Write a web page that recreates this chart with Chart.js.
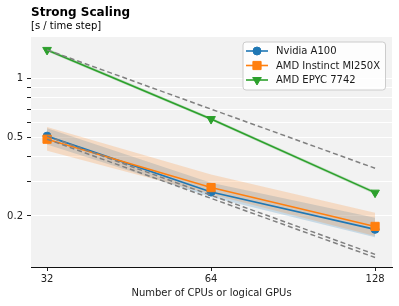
<!DOCTYPE html>
<html>
<head>
<meta charset="utf-8">
<script src="https://cdn.jsdelivr.net/npm/chart.js@4.4.1/dist/chart.umd.min.js"></script>
<style>
html,body{margin:0;padding:0;background:#fff;}
#wrap{width:399px;height:306px;}
</style>
</head>
<body>
<div id="wrap"><canvas id="c" width="399" height="306"></canvas></div>
<script>
// ---- data ----
const cpus = [32, 64, 128];
const xTickValues = [32, 64, 128];
const yTickValues = [0.2, 0.3, 0.4, 0.5, 0.6, 0.7, 0.8, 0.9, 1];
const yTickLabels = ['0.2', '', '', '0.5', '', '', '', '', '1'];

const seriesNames = ['Nvidia A100', 'AMD Instinct MI250X', 'AMD EPYC 7742'];
const a100 = [0.510, 0.265, 0.171];
const a100Lo = [0.462, 0.250, 0.156];
const a100Hi = [0.560, 0.295, 0.196];
const mi250x = [0.492, 0.279, 0.177];
const mi250xLo = [0.430, 0.258, 0.158];
const mi250xHi = [0.567, 0.325, 0.208];
const epyc = [1.401, 0.623, 0.263];
const epycLo = [1.375, 0.612, 0.258];
const epycHi = [1.427, 0.634, 0.268];

const idealA100 = [0.510, 0.255, 0.1275];
const idealMI250x = [0.492, 0.246, 0.123];
const idealEPYC = [1.401, 0.700, 0.350];

// ---- styles ----
const FONT = 'DejaVu Sans';
const BLUE = '#1f77b4', ORANGE = '#ff7f0e', GREEN = '#2ca02c';
const pts = a => a.map((v, i) => ({x: cpus[i], y: v}));

function band(hi, lo, color, order) {
  return [
    {data: pts(hi), borderWidth: 0, pointRadius: 0, fill: false, order: order, backgroundColor: color},
    {data: pts(lo), borderWidth: 0, pointRadius: 0, fill: '-1', order: order, backgroundColor: color}
  ];
}
function line(vals, color, style, radius, rotation, order) {
  return {data: pts(vals), borderColor: color, backgroundColor: color, borderWidth: 1.6,
    pointStyle: style, pointRadius: radius, pointRotation: rotation, pointBorderWidth: 1,
    pointBorderColor: color, pointBackgroundColor: color, fill: false, order: order, tension: 0};
}
function dashed(vals, order) {
  return {data: pts(vals), borderColor: 'rgba(128,128,128,1)', borderWidth: 1.5, borderDash: [5, 3],
    pointRadius: 0, fill: false, order: order};
}

const datasets = [
  ...band(a100Hi, a100Lo, 'rgba(31,119,180,0.2)', 21),
  ...band(mi250xHi, mi250xLo, 'rgba(255,127,14,0.2)', 20),
  ...band(epycHi, epycLo, 'rgba(44,160,44,0.25)', 19),
  line(a100, BLUE, 'circle', 4, 0, 12),
  line(mi250x, ORANGE, 'rect', 5.8, 0, 11),
  line(epyc, GREEN, 'triangle', 5, 180, 10),
  dashed(idealA100, 3),
  dashed(idealMI250x, 2),
  dashed(idealEPYC, 1)
];

const legendItems = [
  {text: seriesNames[0], color: BLUE, style: 'circle', radius: 4, rotation: 0},
  {text: seriesNames[1], color: ORANGE, style: 'rect', radius: 5.8, rotation: 0},
  {text: seriesNames[2], color: GREEN, style: 'triangle', radius: 5, rotation: 180}
];

const bgPlugin = {
  id: 'bg',
  beforeDraw(chart) {
    const {ctx, chartArea: a} = chart;
    ctx.save();
    ctx.fillStyle = '#f2f2f2';
    ctx.fillRect(a.left, a.top, a.right - a.left, a.bottom - a.top);
    ctx.restore();
  }
};

const legendPlugin = {
  id: 'boxLegend',
  afterDraw(chart) {
    const ctx = chart.ctx;
    const x0 = 243, y0 = 42, w = 142.5, h = 48, r = 3;
    ctx.save();
    ctx.beginPath();
    ctx.moveTo(x0 + r, y0);
    ctx.arcTo(x0 + w, y0, x0 + w, y0 + h, r);
    ctx.arcTo(x0 + w, y0 + h, x0, y0 + h, r);
    ctx.arcTo(x0, y0 + h, x0, y0, r);
    ctx.arcTo(x0, y0, x0 + w, y0, r);
    ctx.closePath();
    ctx.fillStyle = 'rgba(255,255,255,0.8)';
    ctx.fill();
    ctx.strokeStyle = '#cccccc';
    ctx.lineWidth = 1;
    ctx.stroke();
    legendItems.forEach((it, i) => {
      const y = 51 + i * 14.5;
      ctx.beginPath();
      ctx.strokeStyle = it.color;
      ctx.lineWidth = 1.6;
      ctx.moveTo(246, y);
      ctx.lineTo(268, y);
      ctx.stroke();
      ctx.fillStyle = it.color;
      ctx.strokeStyle = it.color;
      ctx.lineWidth = 1;
      Chart.helpers.drawPoint(ctx, {pointStyle: it.style, radius: it.radius, rotation: it.rotation, borderWidth: 1}, 257, y);
      ctx.fillStyle = '#1a1a1a';
      ctx.font = '10px "' + FONT + '"';
      ctx.textBaseline = 'middle';
      ctx.textAlign = 'left';
      ctx.fillText(it.text, 276, y + 0.5);
    });
    ctx.restore();
  }
};

new Chart(document.getElementById('c'), {
  type: 'line',
  data: {datasets},
  plugins: [bgPlugin, legendPlugin],
  options: {
    responsive: false,
    animation: false,
    devicePixelRatio: 1,
    layout: {padding: {left: 0, right: 7, top: 0, bottom: 0}},
    plugins: {
      legend: {display: false},
      tooltip: {enabled: false},
      title: {display: true, text: 'Strong Scaling', align: 'start', fullSize: false, color: '#000',
        font: {family: FONT, size: 12, weight: 'bold', lineHeight: 1.2}, padding: {top: 5.5, bottom: 0}},
      subtitle: {display: true, text: '[s / time step]', align: 'start', fullSize: false, color: '#000',
        font: {family: FONT, size: 10, lineHeight: 1.2}, padding: {top: 0.6, bottom: 4.5}}
    },
    scales: {
      x: {
        type: 'logarithmic', min: 29.9, max: 137.5,
        afterBuildTicks: s => { s.ticks = xTickValues.map(v => ({value: v})); },
        afterFit: s => { s.height = 39; },
        grid: {drawOnChartArea: false, tickColor: '#222', tickLength: 4, tickWidth: 1},
        border: {display: true, color: '#111', width: 1},
        ticks: {autoSkip: false, maxRotation: 0, padding: 2, color: '#222',
          font: {family: FONT, size: 10}, callback: v => String(v)},
        title: {display: true, text: 'Number of CPUs or logical GPUs', color: '#222',
          font: {family: FONT, size: 10, lineHeight: 1.2}, padding: {top: 0, bottom: 7}}
      },
      y: {
        type: 'logarithmic', min: 0.11, max: 1.63,
        afterBuildTicks: s => { s.ticks = yTickValues.map(v => ({value: v})); },
        afterFit: s => { s.width = 31; },
        grid: {color: '#ffffff', lineWidth: 1, tickColor: '#222', tickLength: 4, tickWidth: 1},
        border: {display: false},
        ticks: {autoSkip: false, padding: 4, color: '#222', font: {family: FONT, size: 10},
          callback: (v, i) => { const k = yTickValues.indexOf(v); return k >= 0 ? yTickLabels[k] : ''; }}
      }
    }
  }
});
</script>
</body>
</html>
